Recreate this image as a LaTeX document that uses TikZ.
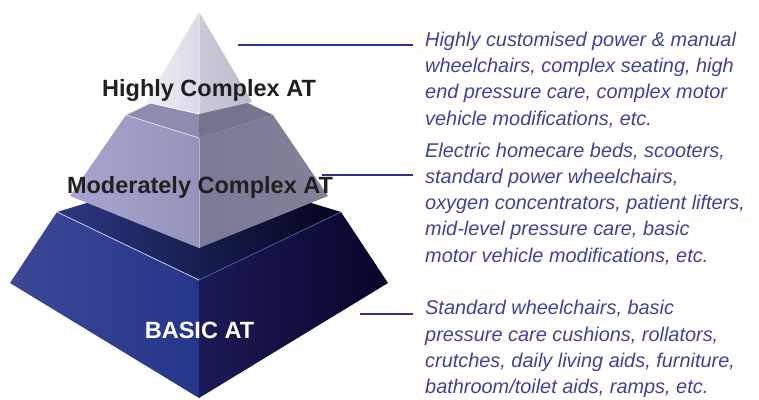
\documentclass[tikz,border=0pt]{standalone}
\usepackage{fontspec}
\setmainfont{Liberation Sans}
\usetikzlibrary{positioning, calc}
\usepackage{xcolor}
\definecolor{leadblue}{HTML}{2E3192}
\definecolor{textblue}{HTML}{40419E}
\definecolor{labelblack}{HTML}{231F20}
% base tier colours
\definecolor{baseEdge}{RGB}{60,72,150}
\definecolor{baseLeft}{RGB}{42,58,140}
\definecolor{baseMid}{RGB}{38,54,138}
\definecolor{baseRightA}{RGB}{28,26,85}
\definecolor{baseRightB}{RGB}{6,5,42}
\definecolor{baseTopA}{RGB}{44,56,130}
\definecolor{baseTopB}{RGB}{28,32,86}
\definecolor{baseTopC}{RGB}{3,3,26}
\definecolor{baseGlow}{RGB}{76,91,196}
% middle tier colours
\definecolor{midLeftA}{RGB}{168,166,208}
\definecolor{midLeftB}{RGB}{149,147,186}
\definecolor{midRightA}{RGB}{123,122,151}
\definecolor{midRightB}{RGB}{131,130,153}
\definecolor{midTopL}{RGB}{141,140,174}
\definecolor{midTopR}{RGB}{117,116,143}
\definecolor{midGlow}{RGB}{181,179,218}
% top tier colours
\definecolor{topLeftA}{RGB}{240,240,247}
\definecolor{topLeftB}{RGB}{218,218,231}
\definecolor{topRightA}{RGB}{202,202,218}
\definecolor{topRightB}{RGB}{188,188,206}

\begin{document}
\begin{tikzpicture}[x=1pt, y=-1pt,
    tier label/.style={font=\fontsize{23.5}{28}\selectfont\bfseries, text=labelblack, inner sep=0pt, anchor=base},
    desc/.style={font=\fontsize{19.9}{26.2}\selectfont\itshape, text=textblue, align=left, anchor=base west, inner xsep=12pt, inner ysep=0pt},
    leader/.style={leadblue, line width=2pt},
    gloss/.style={line width=0.7pt}]
  \useasboundingbox (0,0) rectangle (759,399);

  % base tier
  \shade[left color=baseEdge, middle color=baseLeft, right color=baseMid] (57,212) -- (199,280) -- (199,398) -- (10,283) -- cycle;
  \shade[left color=baseRightA, right color=baseRightB] (199,280) -- (341,212) -- (388,283) -- (199,398) -- cycle;
  \shade[left color=baseTopA, middle color=baseTopB, right color=baseTopC] (57,212) -- (199,169) -- (341,212) -- (199,280) -- cycle;
  \draw[gloss, white!85!blue] (57,212) -- (199,280);
  \draw[gloss, baseGlow] (199,280) -- (341,212);

  % middle tier
  \shade[left color=midLeftA, right color=midLeftB] (126,115) -- (199,138) -- (199,248) -- (70,196) -- cycle;
  \shade[left color=midRightA, right color=midRightB] (199,138) -- (273,115) -- (328,196) -- (199,248) -- cycle;
  \fill[midTopL] (126,115) -- (199,80) -- (199,138) -- cycle;
  \fill[midTopR] (199,80) -- (273,115) -- (199,138) -- cycle;
  \draw[gloss, white!80!gray] (126,115) -- (199,138);
  \draw[gloss, white!70!gray] (126,115) -- (199,80);
  \draw[gloss, midGlow] (199,138) -- (199,248);

  % top tier
  \shade[left color=topLeftA, right color=topLeftB] (199,12) -- (199,114) -- (146,102) -- cycle;
  \shade[left color=topRightA, right color=topRightB] (199,12) -- (252,102) -- (199,114) -- cycle;
  \draw[gloss, white] (146,102) -- (199,114) -- (199,12);

  % leader lines (base anchor sits on the last line)
  \coordinate (tipA) at (238,45);
  \coordinate (tipB) at (322,175);
  \coordinate (tipC) at (360,314);

  \node[desc] (descA) at (413,125) {Highly customised power \& manual\\wheelchairs, complex seating, high\\end pressure care, complex motor\\vehicle modifications, etc.};
  \node[desc] (descB) at (413,262) {Electric homecare beds, scooters,\\standard power wheelchairs,\\oxygen concentrators, patient lifters,\\mid-level pressure care, basic\\motor vehicle modifications, etc.};
  \node[desc] (descC) at (413,393.5) {Standard wheelchairs, basic\\pressure care cushions, rollators,\\crutches, daily living aids, furniture,\\bathroom/toilet aids, ramps, etc.};

  \draw[leader] (tipA) -- (tipA -| descA.west);
  \draw[leader] (tipB) -- (tipB -| descB.west);
  \draw[leader] (tipC) -- (tipC -| descC.west);

  % tier labels
  \node[tier label] (highly) at (209,96) {Highly Complex AT};
  \node[tier label] (moderate) at (200,193) {Moderately Complex AT};
  \node[tier label, text=white] (basic) at (199.5,338) {BASIC AT};
\end{tikzpicture}
\end{document}
